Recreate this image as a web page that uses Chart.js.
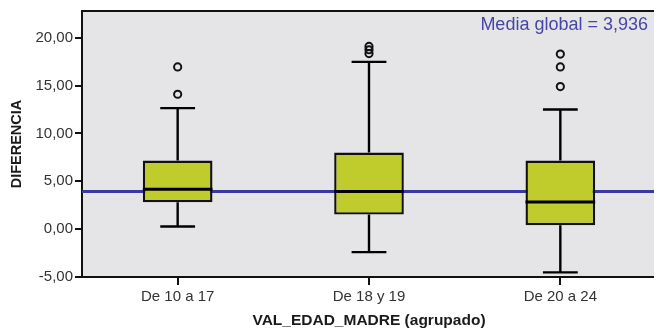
<!DOCTYPE html>
<html>
<head>
<meta charset="utf-8">
<script src="https://cdn.jsdelivr.net/npm/chart.js@4/dist/chart.umd.min.js"></script>
<style>
  html, body { margin: 0; padding: 0; background: #ffffff; overflow: hidden; }
  #wrap { width: 662px; height: 330px; }
</style>
</head>
<body>
<div id="wrap"><canvas id="c" width="662" height="330"></canvas></div>
<script>
// ---- Data ----
const categories   = ['De 10 a 17', 'De 18 y 19', 'De 20 a 24'];
const whiskerLow   = [0.28, -2.4, -4.52];
const quartile1    = [2.8, 1.52, 0.41];
const medians      = [4.17, 3.93, 2.83];
const quartile3    = [7.17, 8.0, 7.17];
const whiskerHigh  = [12.65, 17.48, 12.5];
const outlierCat   = ['De 10 a 17', 'De 10 a 17', 'De 18 y 19', 'De 18 y 19', 'De 18 y 19', 'De 20 a 24', 'De 20 a 24', 'De 20 a 24'];
const outlierVal   = [16.96, 14.1, 19.1, 18.75, 18.35, 18.3, 16.96, 14.9];
const globalMean   = 3.936;
const meanLabel    = 'Media global = 3,936';
const yTickValues  = [-5, 0, 5, 10, 15, 20];
const yMin = -5, yMax = 22.8;
const xTitle = 'VAL_EDAD_MADRE (agrupado)';
const yTitle = 'DIFERENCIA';

const FONT = "'Liberation Sans', Arial, Helvetica, sans-serif";

const boxPlugin = {
  id: 'boxExtras',
  beforeDraw(chart) {
    const { ctx, chartArea: a } = chart;
    ctx.save();
    ctx.fillStyle = '#e5e5e7';
    ctx.fillRect(a.left, a.top, a.right - a.left, a.bottom - a.top);
    ctx.restore();
  },
  beforeDatasetsDraw(chart) {
    const { ctx, chartArea: a, scales } = chart;
    const y = scales.y.getPixelForValue(globalMean);
    ctx.save();
    ctx.strokeStyle = '#3b37a3';
    ctx.lineWidth = 3.2;
    ctx.beginPath();
    ctx.moveTo(a.left, y);
    ctx.lineTo(a.right, y);
    ctx.stroke();
    ctx.restore();
  },
  afterDatasetsDraw(chart) {
    const { ctx, scales } = chart;
    const meta = chart.getDatasetMeta(0);
    const ys = scales.y;
    ctx.save();
    ctx.strokeStyle = '#000000';
    ctx.lineCap = 'butt';
    meta.data.forEach((bar, i) => {
      const x = bar.x;
      const w = bar.width;
      const half = w / 4;
      const pHigh = ys.getPixelForValue(whiskerHigh[i]);
      const pLow = ys.getPixelForValue(whiskerLow[i]);
      const pQ1 = ys.getPixelForValue(quartile1[i]);
      const pQ3 = ys.getPixelForValue(quartile3[i]);
      const pMed = ys.getPixelForValue(medians[i]);
      ctx.lineWidth = 2.4;
      ctx.beginPath();
      ctx.moveTo(x, pQ3); ctx.lineTo(x, pHigh);
      ctx.moveTo(x - half, pHigh); ctx.lineTo(x + half, pHigh);
      ctx.moveTo(x, pQ1); ctx.lineTo(x, pLow);
      ctx.moveTo(x - half, pLow); ctx.lineTo(x + half, pLow);
      ctx.stroke();
      ctx.lineWidth = 3;
      ctx.beginPath();
      ctx.moveTo(x - w / 2, pMed); ctx.lineTo(x + w / 2, pMed);
      ctx.stroke();
    });
    ctx.restore();
  },
  afterDraw(chart) {
    const { ctx, chartArea: a } = chart;
    ctx.save();
    ctx.strokeStyle = '#111111';
    ctx.lineWidth = 2;
    ctx.beginPath();
    ctx.moveTo(a.left, a.top);
    ctx.lineTo(a.right, a.top);
    ctx.lineTo(a.right, a.bottom);
    ctx.stroke();
    ctx.fillStyle = '#4646a6';
    ctx.font = '18px ' + FONT;
    ctx.textAlign = 'right';
    ctx.textBaseline = 'alphabetic';
    ctx.fillText(meanLabel, 648, a.top + 18.5);
    ctx.restore();
  }
};

new Chart(document.getElementById('c'), {
  data: {
    labels: categories,
    datasets: [
      {
        type: 'bar',
        data: categories.map((c, i) => [quartile1[i], quartile3[i]]),
        backgroundColor: '#bfcc2b',
        borderColor: '#111111',
        borderWidth: 2.4,
        borderSkipped: false,
        barPercentage: 0.364,
        categoryPercentage: 1,
        grouped: false
      },
      {
        type: 'line',
        data: outlierCat.map((c, i) => ({ x: c, y: outlierVal[i] })),
        showLine: false,
        pointStyle: 'circle',
        pointRadius: 3.6,
        pointBorderWidth: 2,
        pointBorderColor: '#111111',
        pointBackgroundColor: 'rgba(0,0,0,0)'
      }
    ]
  },
  options: {
    responsive: false,
    animation: false,
    devicePixelRatio: 1,
    layout: { padding: { top: 9, right: 4, left: 0, bottom: 0 } },
    plugins: { legend: { display: false }, tooltip: { enabled: false } },
    scales: {
      x: {
        type: 'category',
        offset: true,
        grid: { display: true, drawOnChartArea: false, drawTicks: true, tickLength: 8, color: '#111111', lineWidth: 2, offset: false },
        border: { display: true, color: '#111111', width: 2 },
        ticks: { color: '#333333', font: { family: FONT, size: 15 }, padding: 3, maxRotation: 0 },
        title: { display: true, text: xTitle, color: '#1a1a1a', font: { family: FONT, size: 15.5, weight: 'bold' }, padding: { top: 0, bottom: 0 } },
        afterFit(scale) { scale.height = 53; }
      },
      y: {
        type: 'linear',
        min: yMin,
        max: yMax,
        afterBuildTicks(scale) { scale.ticks = yTickValues.map(v => ({ value: v })); },
        grid: { display: true, drawOnChartArea: false, drawTicks: true, tickLength: 7, color: '#111111', lineWidth: 2 },
        border: { display: true, color: '#111111', width: 2 },
        ticks: {
          color: '#333333',
          font: { family: FONT, size: 15 },
          padding: 2,
          callback: v => v.toFixed(2).replace('.', ',')
        },
        title: { display: true, text: yTitle, color: '#1a1a1a', font: { family: FONT, size: 14.5, weight: 'bold' }, padding: { top: 8, bottom: 0 } },
        afterFit(scale) { scale.width = 82; }
      }
    }
  },
  plugins: [boxPlugin]
});
</script>
</body>
</html>
